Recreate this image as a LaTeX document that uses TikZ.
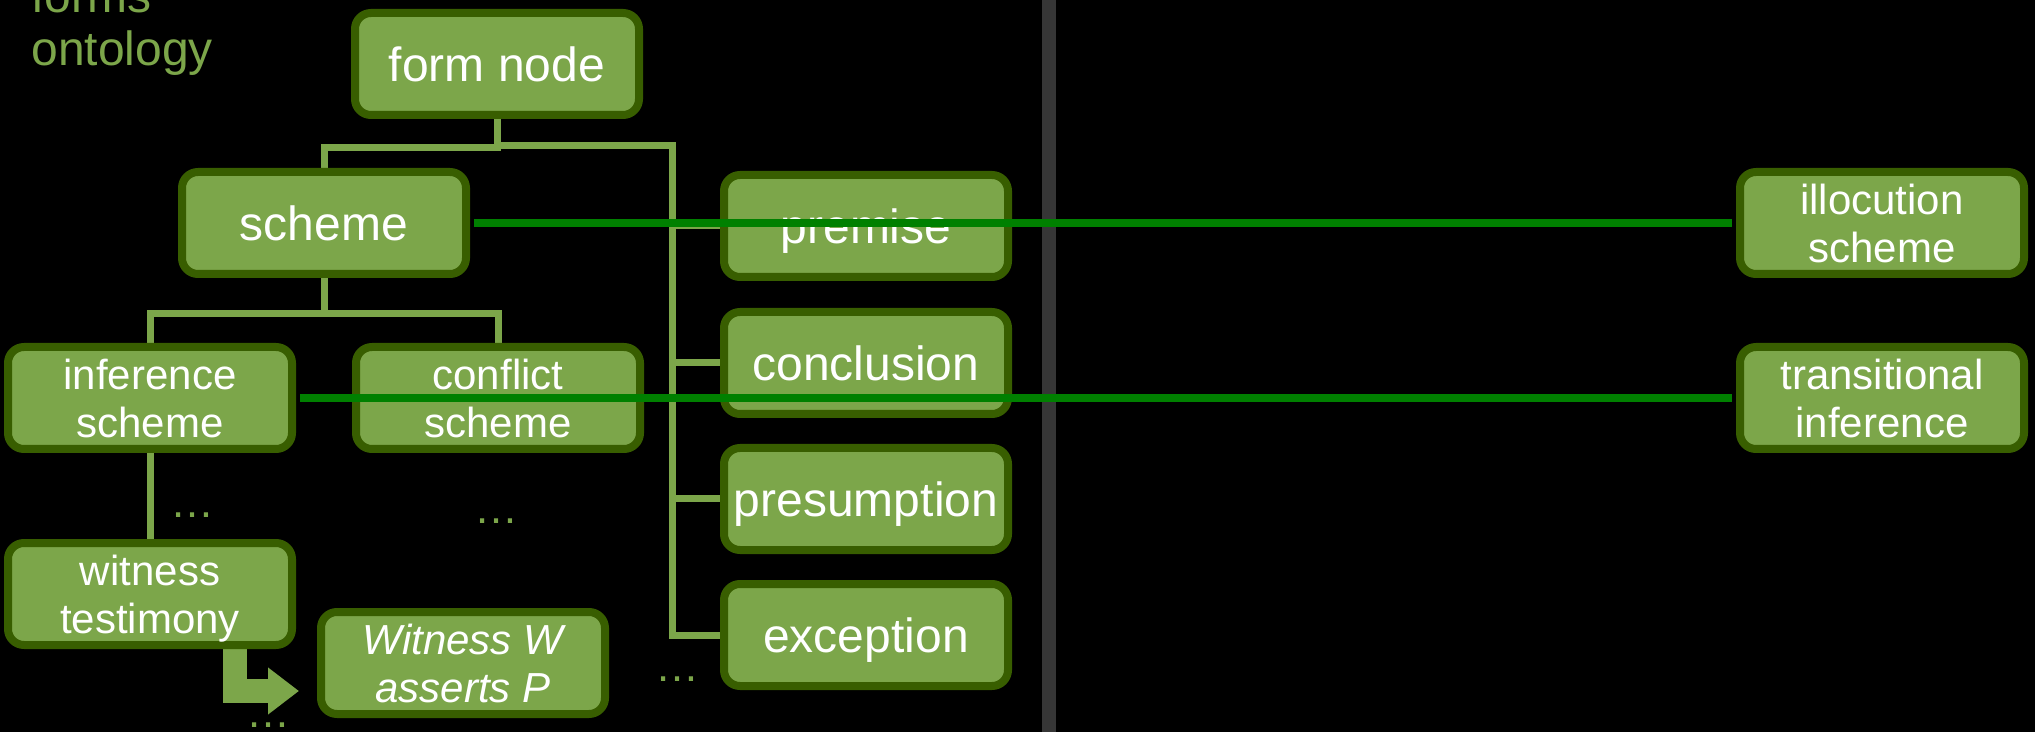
\documentclass[tikz,border=0pt]{standalone}
\usepackage{fontspec}
\setmainfont{Liberation Sans}
\usetikzlibrary{calc,arrows.meta}
\definecolor{leaf}{RGB}{124,166,74}
\definecolor{rim}{RGB}{56,94,0}
\definecolor{linkgreen}{RGB}{0,128,0}
\definecolor{divider}{RGB}{54,54,54}
\pgfdeclarelayer{background}
\pgfsetlayers{background,main}

\begin{document}
\begin{tikzpicture}[x=0.5pt,y=-0.5pt,
  box/.style={draw=rim, fill=leaf, line width=4pt, rounded corners=8pt,
    minimum width=142pt, minimum height=51pt, inner sep=0pt,
    text=white, align=center},
  big/.style={box, font=\fontsize{24}{28}\selectfont, text height=17.5pt, text depth=0pt},
  small/.style={box, font=\fontsize{21}{24}\selectfont, text depth=0pt},
  tree/.style={draw=leaf, line width=3.5pt},
  link/.style={draw=linkgreen, line width=4pt, shorten <=2pt, shorten >=2pt},
  more/.style={text=leaf, font=\fontsize{22}{26}\selectfont, inner sep=0pt},
  title/.style={text=leaf, font=\fontsize{24}{26.5}\selectfont, align=left, inner sep=0pt}]

\useasboundingbox (0,0) rectangle (2035,732);

% heading in the top left corner
\node[title, anchor=south west] (heading) at (31,76) {forms\\ontology};

% ontology nodes
\node[big] (form) at (497,64) {form node};
\node[big] (scheme) at (324,223) {scheme};
\node[small] (infer) at (150,398) {inference\\scheme};
\node[small] (conflict) at (498,398) {conflict\\scheme};
\node[small] (witness) at (150,594) {witness\\testimony};
\node[small, font=\fontsize{21}{24}\selectfont\itshape] (claim) at (463,663) {Witness W\\asserts P};
\node[big] (premise) at (866,226) {premise};
\node[big] (conclusion) at (866,363) {conclusion};
\node[big] (presumption) at (866,499) {presumption};
\node[big] (exception) at (866,635) {exception};
\node[small] (illoc) at (1882,223) {illocution\\scheme};
\node[small] (trans) at (1882,398) {transitional\\inference};

% elided branches
\node[more] (more1) at (192,515) {…};
\node[more] (more2) at (496,521) {…};
\node[more] (more3) at (268,725) {…};
\node[more] (more4) at (677,679) {…};

% tree connectors and the instance arrow, behind the boxes
\begin{pgfonlayer}{background}
  \fill[black] (0,0) rectangle (2035,732);
  \draw[tree] (form.south) -- ++(0,29) -| (scheme.north);
  \foreach \c in {premise,conclusion,presumption,exception}
    \draw[tree] (form.south) -- ++(0,27) -| ($(premise.west)+(-48,0)$) |- (\c.west);
  \draw[tree] (scheme.south) -- ++(0,36) -| (infer.north);
  \draw[tree] (scheme.south) -- ++(0,36) -| (conflict.north);
  \draw[tree] (infer.south) -- (witness.north);
  \draw[leaf, line width=12pt, -{Triangle[length=15.5pt, width=22.5pt]}]
    ($(witness.south)+(85,0)$) |- ($(claim.west)+(-18,28)$);
\end{pgfonlayer}

% divider between the two halves
\draw[divider, line width=7pt] (1049,0) -- (1049,732);

% cross links
\draw[link] (scheme.east) -- (scheme.east -| illoc.west);
\draw[link] (infer.east) -- (infer.east -| trans.west);

\end{tikzpicture}
\end{document}
